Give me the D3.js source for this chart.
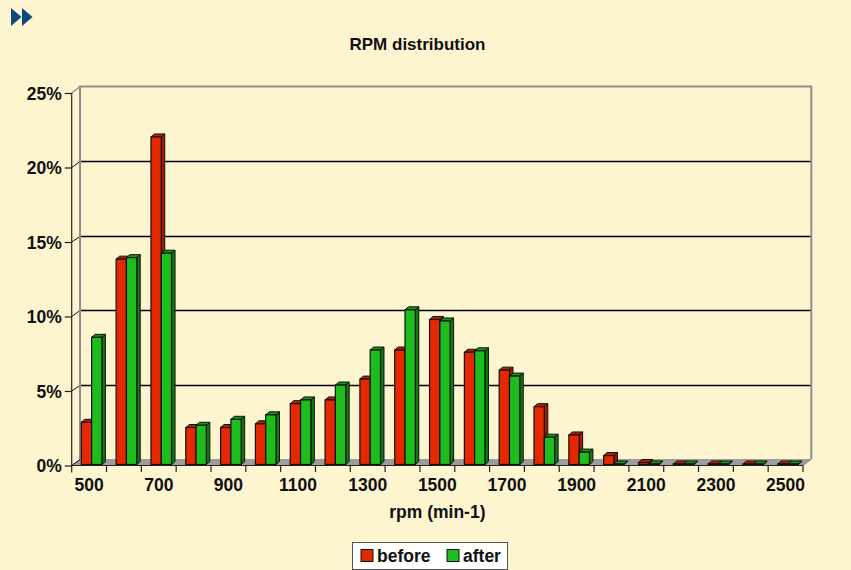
<!DOCTYPE html>
<html>
<head>
<meta charset="utf-8">
<script src="https://cdn.jsdelivr.net/npm/d3@7"></script>
<style>
  html, body { margin: 0; padding: 0; background: #fdf4d0; }
  svg { display: block; font-family: "Liberation Sans", Arial, sans-serif; font-weight: bold; }
</style>
</head>
<body>
<div id="chart"></div>
<script>
// RPM distribution: share of time per rpm band, before vs after
const categories = ["500", "600", "700", "800", "900", "1000", "1100", "1200", "1300", "1400",
  "1500", "1600", "1700", "1800", "1900", "2000", "2100", "2200", "2300", "2400", "2500"];
const before = [2.9, 13.85, 22.05, 2.55, 2.55, 2.8, 4.15, 4.4, 5.8, 7.75,
  9.8, 7.6, 6.4, 3.95, 2.05, 0.67, 0.2, 0.06, 0.04, 0.05, 0.05];
const after = [8.6, 13.95, 14.25, 2.7, 3.1, 3.4, 4.4, 5.4, 7.75, 10.45,
  9.7, 7.7, 6.0, 1.9, 0.9, 0.02, 0.02, 0.01, 0.01, 0.01, 0.01];
const yTicks = [0, 5, 10, 15, 20, 25];
const xLabels = ["500", "700", "900", "1100", "1300", "1500", "1700", "1900", "2100", "2300", "2500"];
const seriesNames = ["before", "after"];

const width = 851, height = 570;
const plotLeft = 71.7, plotRight = 803, plotTop = 93, plotBottom = 465.5;
const depth = { x: 8.3, y: 6.5 };     // back wall offset
const barDepth = { x: 3.5, y: 3 };    // bar 3d offset
const labelSize = 17.5;

const colors = {
  before: { front: "#e62800", side: "#9e1a00", top: "#b82000" },
  after: { front: "#1cbd1c", side: "#0e7a0e", top: "#139a13" }
};

const svg = d3.select("#chart").append("svg")
  .attr("width", width)
  .attr("height", height);

svg.append("rect").attr("width", width).attr("height", height).attr("fill", "#fdf4d0");

// little arrow icon top-left
svg.append("g").attr("fill", "#0b4a7d")
  .selectAll("path")
  .data([11, 22])
  .join("path")
  .attr("d", d => `M${d},8L${d + 10.5},17L${d},26Z`);

// title
svg.append("text")
  .attr("x", 417.5).attr("y", 50)
  .attr("text-anchor", "middle")
  .attr("font-size", 17)
  .attr("fill", "#111")
  .text("RPM distribution");

const x0 = d3.scaleBand().domain(categories).range([plotLeft, plotRight]).padding(0);
const bw = x0.bandwidth();
const x1 = d3.scaleBand().domain(seriesNames).range([0.276 * bw, 0.867 * bw]).padding(0);
const y = d3.scaleLinear().domain([0, 25]).range([plotBottom, plotTop]);

// floor
svg.append("path")
  .attr("d", `M${plotLeft},${plotBottom}L${plotRight},${plotBottom}L${plotRight + depth.x},${plotBottom - depth.y}L${plotLeft + depth.x},${plotBottom - depth.y}Z`)
  .attr("fill", "#9c9c9c");

// gridlines on back wall + side diagonals
const grid = svg.append("g");
grid.selectAll("line.back")
  .data(yTicks.filter(d => d > 0 && d < 25))
  .join("line")
  .attr("class", "back")
  .attr("x1", plotLeft + depth.x).attr("x2", plotRight + depth.x)
  .attr("y1", d => Math.round(y(d) - depth.y) + 0.5).attr("y2", d => Math.round(y(d) - depth.y) + 0.5)
  .attr("stroke", "#000").attr("stroke-width", 1.3);
grid.selectAll("line.side")
  .data(yTicks.filter(d => d < 25))
  .join("line")
  .attr("class", "side")
  .attr("x1", plotLeft).attr("x2", plotLeft + depth.x)
  .attr("y1", d => y(d)).attr("y2", d => Math.round(y(d) - depth.y) + 0.5)
  .attr("stroke", "#111").attr("stroke-width", 1);

// back wall frame (gray)
svg.append("path")
  .attr("d", `M${plotLeft + depth.x},${plotBottom - depth.y}L${plotLeft + depth.x},${plotTop - depth.y}L${plotRight + depth.x},${plotTop - depth.y}L${plotRight + depth.x},${plotBottom - depth.y}`)
  .attr("fill", "none").attr("stroke", "#8f8f8f").attr("stroke-width", 2);
svg.append("line")
  .attr("x1", plotLeft).attr("y1", plotTop).attr("x2", plotLeft + depth.x).attr("y2", plotTop - depth.y)
  .attr("stroke", "#8f8f8f").attr("stroke-width", 1.5);
svg.append("line")
  .attr("x1", plotRight).attr("y1", plotBottom).attr("x2", plotRight + depth.x).attr("y2", plotBottom - depth.y)
  .attr("stroke", "#777").attr("stroke-width", 1);

// bars
const barData = [];
categories.forEach((c, i) => {
  barData.push({ cat: c, s: "before", v: before[i] });
  barData.push({ cat: c, s: "after", v: after[i] });
});

const y0 = plotBottom - 1;
const bars = svg.append("g")
  .selectAll("g.bar")
  .data(barData)
  .join("g")
  .attr("class", "bar");

bars.each(function(d) {
  const g = d3.select(this);
  const bx = x0(d.cat) + x1(d.s);
  const w = x1.bandwidth();
  const yt = Math.min(y(d.v), y0 - 0.5);
  const dx = barDepth.x, dy = barDepth.y;
  g.append("path")
    .attr("d", `M${bx + w},${yt}L${bx + w + dx},${yt - dy}L${bx + w + dx},${y0 - dy}L${bx + w},${y0}Z`)
    .attr("fill", colors[d.s].side).attr("stroke", "#111").attr("stroke-width", 1).attr("stroke-linejoin", "round");
  g.append("path")
    .attr("d", `M${bx},${yt}L${bx + dx},${yt - dy}L${bx + w + dx},${yt - dy}L${bx + w},${yt}Z`)
    .attr("fill", colors[d.s].top).attr("stroke", "#111").attr("stroke-width", 1).attr("stroke-linejoin", "round");
  g.append("rect")
    .attr("x", bx).attr("y", yt)
    .attr("width", w).attr("height", y0 - yt)
    .attr("fill", colors[d.s].front).attr("stroke", "#111").attr("stroke-width", 1.2);
});

// y axis
const yAxis = svg.append("g")
  .attr("transform", `translate(${plotLeft},0)`)
  .call(d3.axisLeft(y).tickValues(yTicks).tickFormat(d => d + "%").tickSize(7).tickPadding(3));
yAxis.select(".domain").remove();
yAxis.selectAll(".tick line").attr("stroke", "#222").attr("stroke-width", 1.2);
yAxis.selectAll(".tick text")
  .attr("font-size", labelSize).attr("font-family", "Liberation Sans, Arial, sans-serif")
  .attr("font-weight", "bold").attr("fill", "#111").attr("dy", "0.36em");
svg.append("line")
  .attr("x1", plotLeft).attr("x2", plotLeft).attr("y1", plotTop).attr("y2", plotBottom + 7)
  .attr("stroke", "#222").attr("stroke-width", 1.2);

// x axis line + boundary ticks
const xb = d3.scaleLinear().domain([0, categories.length]).range([plotLeft, plotRight]);
svg.append("line")
  .attr("x1", plotLeft).attr("x2", plotRight).attr("y1", plotBottom).attr("y2", plotBottom)
  .attr("stroke", "#222").attr("stroke-width", 1.2);
svg.append("g").selectAll("line")
  .data(d3.range(1, categories.length + 1))
  .join("line")
  .attr("x1", d => xb(d)).attr("x2", d => xb(d))
  .attr("y1", plotBottom).attr("y2", plotBottom + 6.5)
  .attr("stroke", "#222").attr("stroke-width", 1.2);

const xAxis = svg.append("g")
  .attr("transform", `translate(0,${plotBottom})`)
  .call(d3.axisBottom(x0).tickValues(xLabels).tickSize(0).tickPadding(13));
xAxis.select(".domain").remove();
xAxis.selectAll(".tick text")
  .attr("font-size", labelSize).attr("font-family", "Liberation Sans, Arial, sans-serif")
  .attr("font-weight", "bold").attr("fill", "#111");

// x axis title
svg.append("text")
  .attr("x", (plotLeft + plotRight) / 2).attr("y", 518)
  .attr("text-anchor", "middle")
  .attr("font-size", labelSize)
  .attr("fill", "#111")
  .text("rpm (min-1)");

// legend
const legend = svg.append("g");
legend.append("rect")
  .attr("x", 352.5).attr("y", 542.5).attr("width", 155).attr("height", 27)
  .attr("fill", "#ffffff").attr("stroke", "#555").attr("stroke-width", 1);
const legendPos = { before: 361, after: 447 };
seriesNames.forEach(s => {
  legend.append("rect")
    .attr("x", legendPos[s]).attr("y", 549.5).attr("width", 12).attr("height", 12)
    .attr("fill", colors[s].front).attr("stroke", "#111").attr("stroke-width", 1);
  legend.append("text")
    .attr("x", legendPos[s] + 16).attr("y", 562)
    .attr("font-size", labelSize).attr("fill", "#111")
    .text(s);
});
</script>
</body>
</html>
